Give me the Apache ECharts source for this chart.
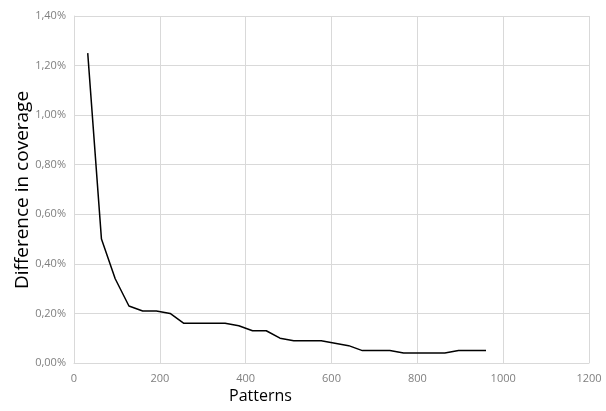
<!DOCTYPE html>
<html>
<head>
<meta charset="utf-8">
<script src="https://cdn.jsdelivr.net/npm/echarts@6/dist/echarts.min.js"></script>
<style>html,body{margin:0;padding:0;background:#fff}#c{width:606px;height:411px}</style>
</head>
<body>
<div id="c"></div>
<script>
var patterns = [32,64,96,128,160,192,224,256,288,320,352,384,416,448,480,512,544,576,608,640,672,704,736,768,800,832,864,896,928,960];
var diffPct = [1.25,0.50,0.34,0.23,0.21,0.21,0.20,0.16,0.16,0.16,0.16,0.15,0.13,0.13,0.10,0.09,0.09,0.09,0.08,0.07,0.05,0.05,0.05,0.04,0.04,0.04,0.04,0.05,0.05,0.05];
var xTitle = 'Patterns';
var yTitle = 'Difference in coverage';

var chart = echarts.init(document.getElementById('c'), null, {renderer:'canvas'});
var font = '"Open Sans", "Noto Sans", sans-serif';
chart.setOption({
  animation:false,
  backgroundColor:'#fff',
  grid:{left:74, right:17, top:16, bottom:48, containLabel:false},
  graphic:[
    {type:'text', left:229, top:388, style:{text:xTitle, font:'16px "Open Sans", sans-serif', fill:'#000'}},
    {type:'text', x:23, y:190, rotation:Math.PI/2,
      style:{text:yTitle, font:'19px "Open Sans", sans-serif', fill:'#000', align:'center', verticalAlign:'middle'}}
  ],
  xAxis:{type:'value', min:0, max:1200, interval:200,
    axisLine:{show:true, lineStyle:{color:'#d9d9d9'}},
    axisTick:{show:false},
    axisLabel:{color:'#7f7f7f', fontSize:11, fontFamily:font, margin:10,
      formatter:function(v){return String(v);}},
    splitLine:{show:true, lineStyle:{color:'#d9d9d9'}}},
  yAxis:{type:'value', min:0, max:1.4, interval:0.2,
    axisLine:{show:true, lineStyle:{color:'#d9d9d9'}},
    axisTick:{show:false},
    axisLabel:{color:'#7f7f7f', fontSize:11, fontFamily:font, margin:8,
      formatter:function(v){return v.toFixed(2).replace('.',',')+'%';}},
    splitLine:{show:true, lineStyle:{color:'#d9d9d9'}}},
  series:[{type:'line', data:patterns.map(function(p,i){return [p,diffPct[i]];}),
    showSymbol:false, lineStyle:{color:'#000', width:1.5}}]
});
</script>
</body>
</html>
